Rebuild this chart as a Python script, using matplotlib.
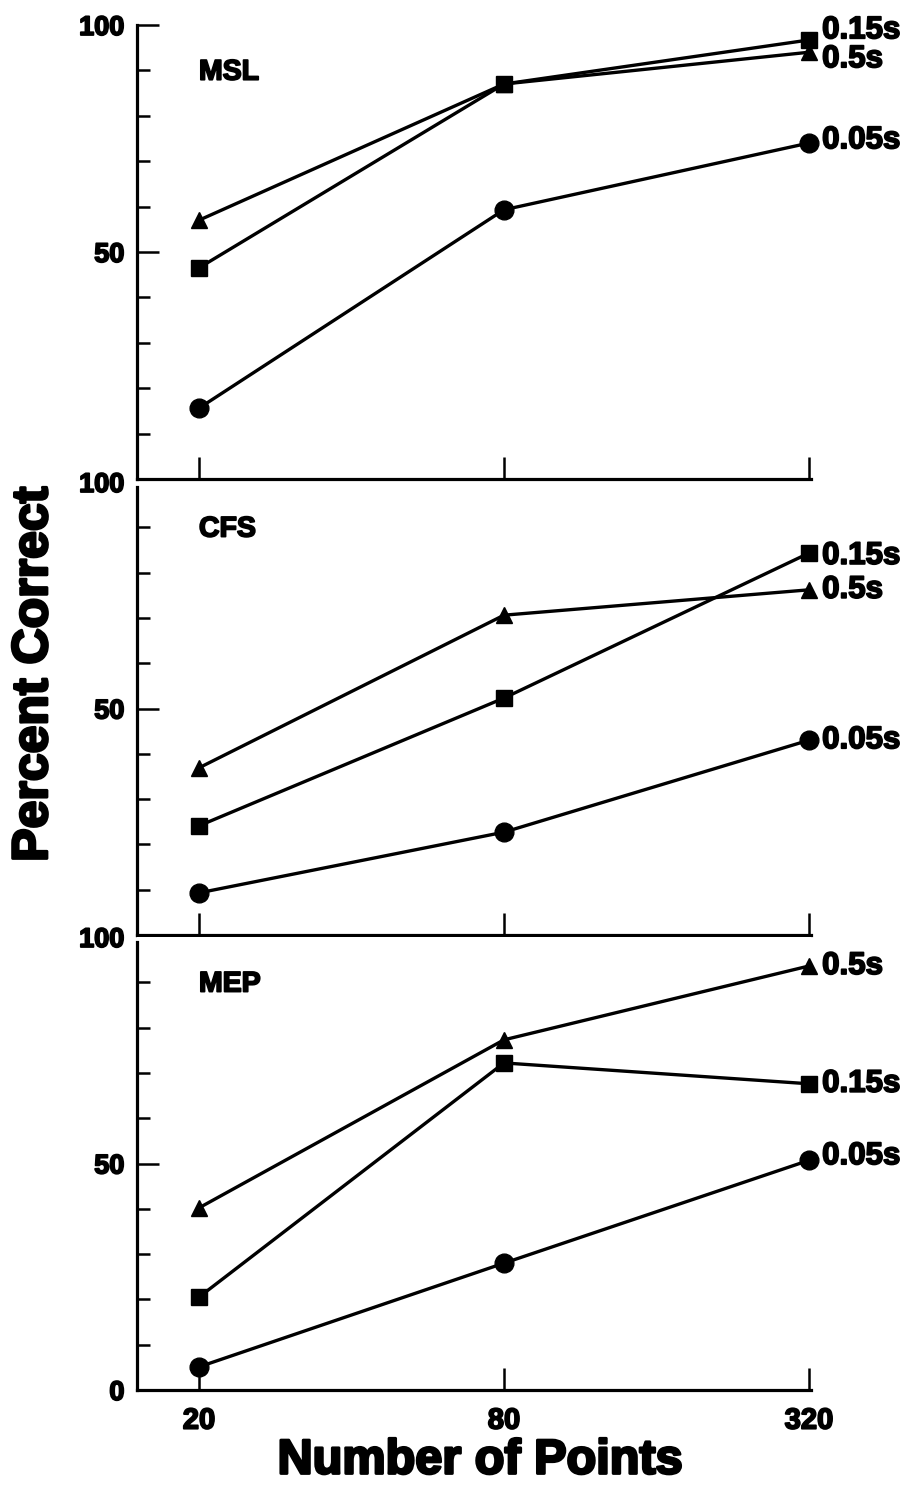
import matplotlib
matplotlib.use('Agg')
import matplotlib.pyplot as plt
import matplotlib.patheffects as pe
from matplotlib.ticker import FixedLocator, NullFormatter

plt.rcParams['font.family'] = ['Liberation Sans', 'DejaVu Sans']
plt.rcParams['font.weight'] = 'bold'

# ---------------- data ----------------
points = [20, 80, 320]
panel_names = ['MSL', 'CFS', 'MEP']
durations = ['0.05s', '0.15s', '0.5s']

msl_005 = [15.6, 59.3, 74.0]
msl_015 = [46.5, 87.0, 96.7]
msl_05 = [57.0, 87.0, 94.0]

cfs_005 = [9.3, 22.7, 43.0]
cfs_015 = [24.1, 52.3, 84.3]
cfs_05 = [36.9, 70.6, 76.2]

mep_005 = [5.1, 28.0, 50.7]
mep_015 = [20.5, 72.2, 67.6]
mep_05 = [40.2, 77.3, 93.6]

panel_data = [
    (msl_005, msl_015, msl_05),
    (cfs_005, cfs_015, cfs_05),
    (mep_005, mep_015, mep_05),
]

# ---------------- layout ----------------
W, H = 907, 1505
fig = plt.figure(figsize=(W / 100, H / 100), dpi=100)

heavy = [pe.withStroke(linewidth=1.3, foreground='black')]
heavy_big = [pe.withStroke(linewidth=2.0, foreground='black')]

left = 137 / W
width = 674 / W
# (pixel of y=100, pixel of y=0)
panel_px = [(25, 479), (482, 935), (937, 1390)]

markers = ['o', 's', '^']
msizes = [13.5, 11, 11.5]
# label vertical offsets in points per panel: (0.05s, 0.15s, 0.5s)
label_offsets = [(2, 7, -5), (0, -2, 0), (3, 0, 0)]

lw = 2.4
for i, (name, series) in enumerate(zip(panel_names, panel_data)):
    top_px, bot_px = panel_px[i]
    ax = fig.add_axes([left, (H - bot_px) / H, width, (bot_px - top_px) / H])
    ax.set_xscale('log', base=2)
    ax.set_xlim(15.09, 323)
    ax.set_ylim(0, 100)
    for s in ['top', 'right']:
        ax.spines[s].set_visible(False)
    for s in ['left', 'bottom']:
        ax.spines[s].set_linewidth(2.3)
    if i > 0:
        ax.spines['left'].set_bounds(0, 98.8)

    for vals, mk, ms, lab, off in zip(series, markers, msizes, durations, label_offsets[i]):
        ax.plot(points, vals, color='black', lw=lw, marker=mk, ms=ms,
                markerfacecolor='black', markeredgecolor='black', clip_on=False, zorder=3)
        ax.annotate(lab, xy=(points[-1], vals[-1]), xytext=(9.5, off),
                    textcoords='offset points', ha='left', va='center',
                    fontsize=22.5, fontweight='bold', annotation_clip=False,
                    path_effects=heavy)

    ax.text(20, 89.5, name, ha='left', va='center', fontsize=20.5, fontweight='bold',
            path_effects=heavy)

    # x ticks
    ax.xaxis.set_major_locator(FixedLocator(points))
    ax.xaxis.set_minor_locator(FixedLocator([]))
    ax.xaxis.set_minor_formatter(NullFormatter())
    if i == 2:
        ax.set_xticklabels([str(p) for p in points], fontsize=21, fontweight='bold')
    else:
        ax.set_xticklabels([])
    ax.tick_params(axis='x', which='major', direction='in', length=16, width=1.8, pad=12)

    # y ticks
    if i == 2:
        yt = [0, 50, 100]
    else:
        yt = [50, 100]
    ax.yaxis.set_major_locator(FixedLocator(yt))
    ax.set_yticklabels([str(v) for v in yt], fontsize=19.5, fontweight='bold')
    ax.yaxis.set_minor_locator(FixedLocator([10, 20, 30, 40, 60, 70, 80, 90]))
    ax.tick_params(axis='y', which='major', direction='in', length=16, width=1.8, pad=9)
    ax.tick_params(axis='y', which='minor', direction='in', length=9, width=1.8)
    if i > 0:
        ax.yaxis.get_major_ticks()[-1].tick1line.set_visible(False)
    for t in ax.get_xticklabels() + ax.get_yticklabels():
        t.set_path_effects(heavy)

fig.text(34 / W, 1 - 674 / H, 'Percent Correct', rotation=90, ha='center', va='center',
         fontsize=36, fontweight='bold', path_effects=heavy_big)
fig.text(480 / W, 1 - 1461 / H, 'Number of Points', ha='center', va='center',
         fontsize=35, fontweight='bold', path_effects=heavy_big)

fig.savefig('out.png', dpi=100, facecolor='white')
